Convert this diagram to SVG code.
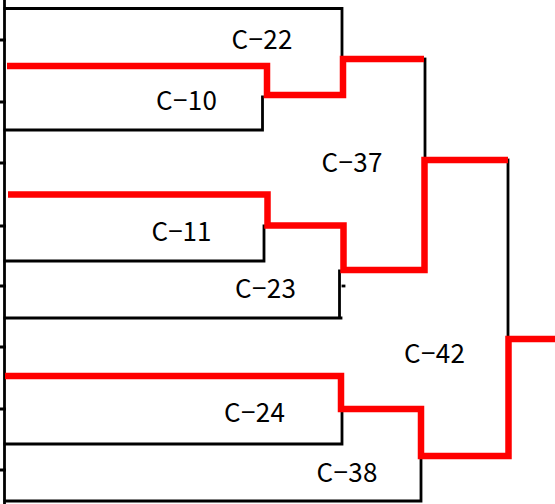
<svg xmlns="http://www.w3.org/2000/svg" width="555" height="504" viewBox="0 0 555 504">
  <style>
    .blk { fill: none; stroke: #000; stroke-width: 2.8; stroke-linecap: square; }
    .red { fill: none; stroke: #ff0000; stroke-width: 6.5; stroke-linejoin: miter; stroke-linecap: butt; }
    .lbl { font-family: "Noto Sans CJK JP", "DejaVu Sans", sans-serif; font-size: 26px; fill: #000; text-anchor: middle; }
  </style>
  <rect width="555" height="504" fill="#fff"/>
  <g id="axis">
    <path class="blk" d="M4.5,0 V504" stroke-linecap="butt"/>
    <path class="blk" stroke-linecap="butt" d="M0,40 H4.5 M0,102 H4.5 M0,163 H4.5 M0,226 H4.5 M0,286 H4.5 M0,347 H4.5 M0,409 H4.5 M0,470 H4.5"/>
  </g>
  <g id="connectors">
    <path class="blk" d="M5,8.5 H342 V55"/>
    <path class="blk" d="M5,130 H262.5 V97"/>
    <path class="blk" d="M425,59 V158"/>
    <path class="blk" d="M5,261 H264 V226"/>
    <path class="blk" d="M5,318 H341 M339.5,318 V271"/>
    <path class="blk" d="M343,286 H344" stroke-width="1.5"/>
    <path class="blk" d="M508,160 V336"/>
    <path class="blk" d="M5,444 H342 V411"/>
    <path class="blk" d="M5,501 H421 V458"/>
    <path class="red" d="M7,66 H267 V95 H343 V59 H424"/>
    <path class="red" d="M8,194.5 H267.5 V225.5 H343.5 V270 H424.5 V160 H508"/>
    <path class="red" d="M5,376 H341 V409 H421 V456 H508.5 V339 H555"/>
  </g>
  <g id="C-22"><text class="lbl" x="262" y="49" textLength="61" lengthAdjust="spacing">C−22</text></g>
  <g id="C-10"><text class="lbl" x="186.5" y="110" textLength="61" lengthAdjust="spacing">C−10</text></g>
  <g id="C-37"><text class="lbl" x="352" y="172" textLength="61" lengthAdjust="spacing">C−37</text></g>
  <g id="C-11"><text class="lbl" x="181.5" y="241" textLength="60" lengthAdjust="spacing">C−11</text></g>
  <g id="C-23"><text class="lbl" x="265.5" y="298" textLength="61" lengthAdjust="spacing">C−23</text></g>
  <g id="C-42"><text class="lbl" x="434.5" y="363" textLength="61" lengthAdjust="spacing">C−42</text></g>
  <g id="C-24"><text class="lbl" x="254.5" y="422" textLength="61" lengthAdjust="spacing">C−24</text></g>
  <g id="C-38"><text class="lbl" x="347" y="482" textLength="61" lengthAdjust="spacing">C−38</text></g>
</svg>
